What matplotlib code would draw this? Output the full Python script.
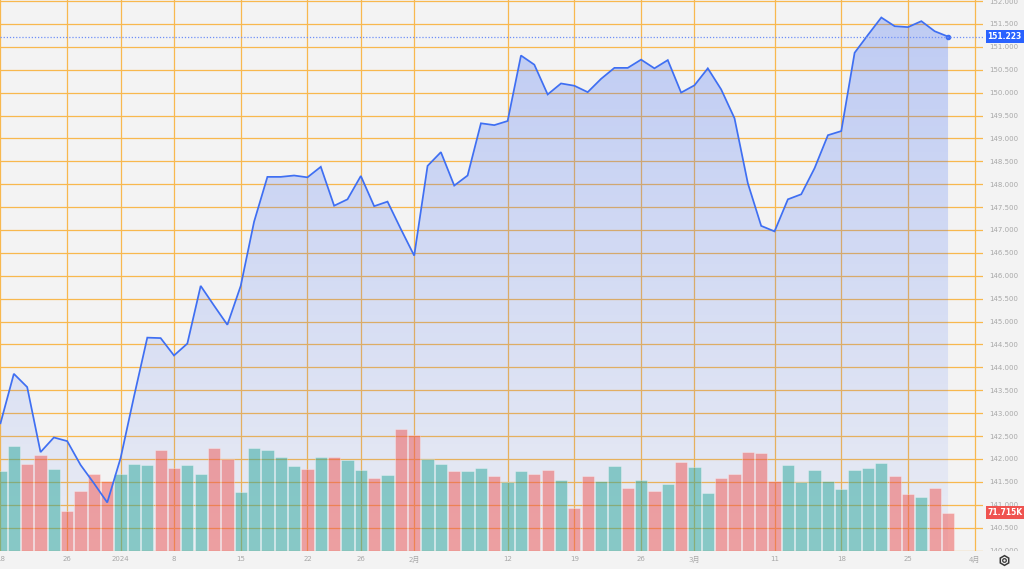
import numpy as np
import matplotlib
matplotlib.use("Agg")
import matplotlib.pyplot as plt
from matplotlib.lines import Line2D
from matplotlib.patches import Rectangle

plt.rcParams['font.family'] = ['DejaVu Sans', 'Noto Sans CJK JP']

# ---------------- data ----------------
dates = ['12-18', '12-19', '12-20', '12-21', '12-22', '12-26', '12-27', '12-28', '12-29',
         '01-02', '01-03', '01-04', '01-05', '01-08', '01-09', '01-10', '01-11', '01-12',
         '01-15', '01-16', '01-17', '01-18', '01-19', '01-22', '01-23', '01-24', '01-25',
         '01-26', '01-29', '01-30', '01-31',
         '02-01', '02-02', '02-05', '02-06', '02-07', '02-08', '02-09', '02-12', '02-13',
         '02-14', '02-15', '02-16', '02-19', '02-20', '02-21', '02-22', '02-23', '02-26',
         '02-27', '02-28', '02-29',
         '03-01', '03-04', '03-05', '03-06', '03-07', '03-08', '03-11', '03-12', '03-13',
         '03-14', '03-15', '03-18', '03-19', '03-20', '03-21', '03-22', '03-25', '03-26',
         '03-27', '03-28']
future_dates = ['03-29', '04-01']

price = [142.78, 143.86, 143.57, 142.15, 142.47, 142.39, 141.87, 141.47, 141.05,
         142.02, 143.36, 144.65, 144.64, 144.26, 144.52, 145.78, 145.35, 144.93,
         145.78, 147.18, 148.16, 148.16, 148.19, 148.15, 148.38, 147.53, 147.67,
         148.18, 147.52, 147.62, 147.02,
         146.44, 148.40, 148.70, 147.97, 148.19, 149.33, 149.29, 149.38, 150.81,
         150.61, 149.96, 150.20, 150.15, 150.01, 150.30, 150.54, 150.54, 150.72,
         150.53, 150.71, 150.00,
         150.16, 150.53, 150.07, 149.44, 148.02, 147.09, 146.97, 147.67, 147.78,
         148.35, 149.07, 149.16, 150.87, 151.26, 151.64, 151.45, 151.43, 151.56,
         151.34, 151.223]

volume_k = [149.8, 196.0, 162.3, 179.2, 154.1, 75.5, 112.4, 144.7, 131.1,
            143.6, 162.9, 161.6, 189.7, 154.9, 161.6, 143.6, 192.3, 171.7,
            109.9, 192.3, 189.1, 176.6, 159.2, 153.0, 175.5, 176.6, 171.0,
            151.1, 136.1, 142.3, 229.0,
            216.6, 172.8, 162.9, 149.8, 149.8, 155.4, 141.0, 128.6, 149.8,
            143.6, 151.7, 133.5, 80.0, 141.0, 131.1, 159.2, 118.0, 133.5,
            111.8, 125.5, 166.7,
            157.3, 108.6, 136.1, 144.7, 185.9, 183.5, 130.5, 161.6, 128.6,
            152.2, 130.5, 116.7, 152.2, 155.4, 165.3, 140.4, 107.3, 101.1,
            117.4, 71.715]

up = [1, 1, 0, 0, 1, 0, 0, 0, 0,
      1, 1, 1, 0, 0, 1, 1, 0, 0,
      1, 1, 1, 1, 1, 0, 1, 0, 1,
      1, 0, 1, 0,
      0, 1, 1, 0, 1, 1, 0, 1, 1,
      0, 0, 1, 0, 0, 1, 1, 0, 1,
      0, 1, 0,
      1, 1, 0, 0, 0, 0, 0, 1, 1,
      1, 1, 1, 1, 1, 1, 0, 0, 1,
      0, 0]

tick_dates = ['12-18', '12-26', '01-02', '01-08', '01-15', '01-22', '01-26', '02-01',
              '02-12', '02-19', '02-26', '03-01', '03-11', '03-18', '03-25', '04-01']
tick_labels = ['18', '26', '2024', '8', '15', '22', '26', '2月',
               '12', '19', '26', '3月', '11', '18', '25', '4月']

price_ticks = np.arange(140.0, 152.01, 0.5)
last_price_label = '151.223'
last_volume_label = '71.715K'

# ---------------- styling ----------------
BG = '#f3f3f3'
GRID = '#f8b84e'
LINE = '#3f6ff2'
UPC = (38 / 255, 166 / 255, 154 / 255, 0.5)
DNC = (239 / 255, 83 / 255, 80 / 255, 0.5)
LBL = '#a8a8a8'

W, H = 1024, 569
fig = plt.figure(figsize=(W / 100, H / 100), dpi=100)
fig.patch.set_facecolor(BG)

axes_rect = [0, 18 / H, 983 / W, 551 / H]
ax = fig.add_axes(axes_rect)
ax.set_zorder(0)
ax.set_facecolor(BG)

all_dates = dates + future_dates
x = np.arange(len(dates))
xpos = {d: i for i, d in enumerate(all_dates)}
tick_x = [xpos[d] for d in tick_dates]

xlim = (-0.037, 73.62)
ylim = (139.991, 152.022)

# twins (volume + line layers)
axv = ax.twinx()
axl = ax.twinx()

# grid
ax.set_xticks(tick_x)
ax.set_xticklabels(tick_labels)
ax.set_yticks(price_ticks)
ax.set_yticklabels([f'{v:.3f}' for v in price_ticks])
ax.yaxis.tick_right()
ax.yaxis.set_label_position('right')
ax.grid(True, color=GRID, linewidth=0.9, zorder=0)
ax.set_axisbelow(True)
ax.tick_params(axis='both', length=0, labelsize=5, labelcolor=LBL)
ax.tick_params(axis='x', pad=3.5)
ax.tick_params(axis='y', pad=4.5, labelright=True, labelleft=False)
for s in ax.spines.values():
    s.set_visible(False)

# gradient area fill
fb = ax.fill_between(x, price, ylim[0], color='none', linewidth=0)
grad = np.zeros((256, 1, 4))
grad[:, 0, 0] = 0.25
grad[:, 0, 1] = 0.42
grad[:, 0, 2] = 0.96
grad[:, 0, 3] = np.linspace(0.05, 0.30, 256)
img = ax.imshow(grad, extent=[xlim[0], xlim[1], ylim[0], ylim[1]], origin='lower',
                aspect='auto', interpolation='bilinear', zorder=1)
img.set_clip_path(fb.get_paths()[0], transform=ax.transData)
ax.set_xlim(*xlim)
ax.set_ylim(*ylim)

# volume bars
axv.set_zorder(1)
axv.patch.set_visible(False)
bar_colors = [UPC if u else DNC for u in up]
edge_colors = [(1, 1, 1, 0.35)] * len(up)
axv.bar(x, volume_k, width=0.92, color=bar_colors, edgecolor=edge_colors, linewidth=0.6)
axv.set_ylim(0, 71.715 * 551 / 38.3)
axv.set_xlim(*xlim)
axv.set_yticks([])
axv.tick_params(length=0)
for s in axv.spines.values():
    s.set_visible(False)

# price line
axl.set_zorder(2)
axl.patch.set_visible(False)
axl.plot(x, price, color=LINE, linewidth=1.25, solid_joinstyle='miter')
axl.plot([x[-1]], [price[-1]], 'o', color=LINE, markersize=3)
axl.axhline(price[-1], color='#6f90f7', linewidth=0.9, linestyle=(0, (1, 1.5)))
axl.set_ylim(*ylim)
axl.set_xlim(*xlim)
axl.set_yticks([])
axl.tick_params(length=0)
for s in axl.spines.values():
    s.set_visible(False)

# last value labels
axl.text(1.0045, price[-1], last_price_label, transform=axl.get_yaxis_transform(),
         ha='left', va='center', fontsize=5.5, color='white', fontweight='bold',
         bbox=dict(boxstyle='square,pad=0.25', fc='#2962ff', ec='none'), clip_on=False)
axv.text(1.0045, volume_k[-1], last_volume_label, transform=axv.get_yaxis_transform(),
         ha='left', va='center', fontsize=5.5, color='white', fontweight='bold',
         bbox=dict(boxstyle='square,pad=0.25', fc='#ef5350', ec='none'), clip_on=False)

# cover the lower price label overflow
fig.add_artist(Rectangle((983.5 / W, 0), 41 / W, 18 / H, transform=fig.transFigure,
                         facecolor=BG, edgecolor='none', zorder=5))
# settings icon
fig.add_artist(Line2D([1004 / W], [1 - 560 / H], marker='h', markersize=7,
                      markerfacecolor='none', markeredgecolor='#3a3a3a',
                      markeredgewidth=1.1, transform=fig.transFigure, zorder=6))
fig.add_artist(Line2D([1004 / W], [1 - 560 / H], marker='o', markersize=2.6,
                      markerfacecolor='none', markeredgecolor='#3a3a3a',
                      markeredgewidth=0.9, transform=fig.transFigure, zorder=6))

fig.savefig('out.png', dpi=100, facecolor=BG)
